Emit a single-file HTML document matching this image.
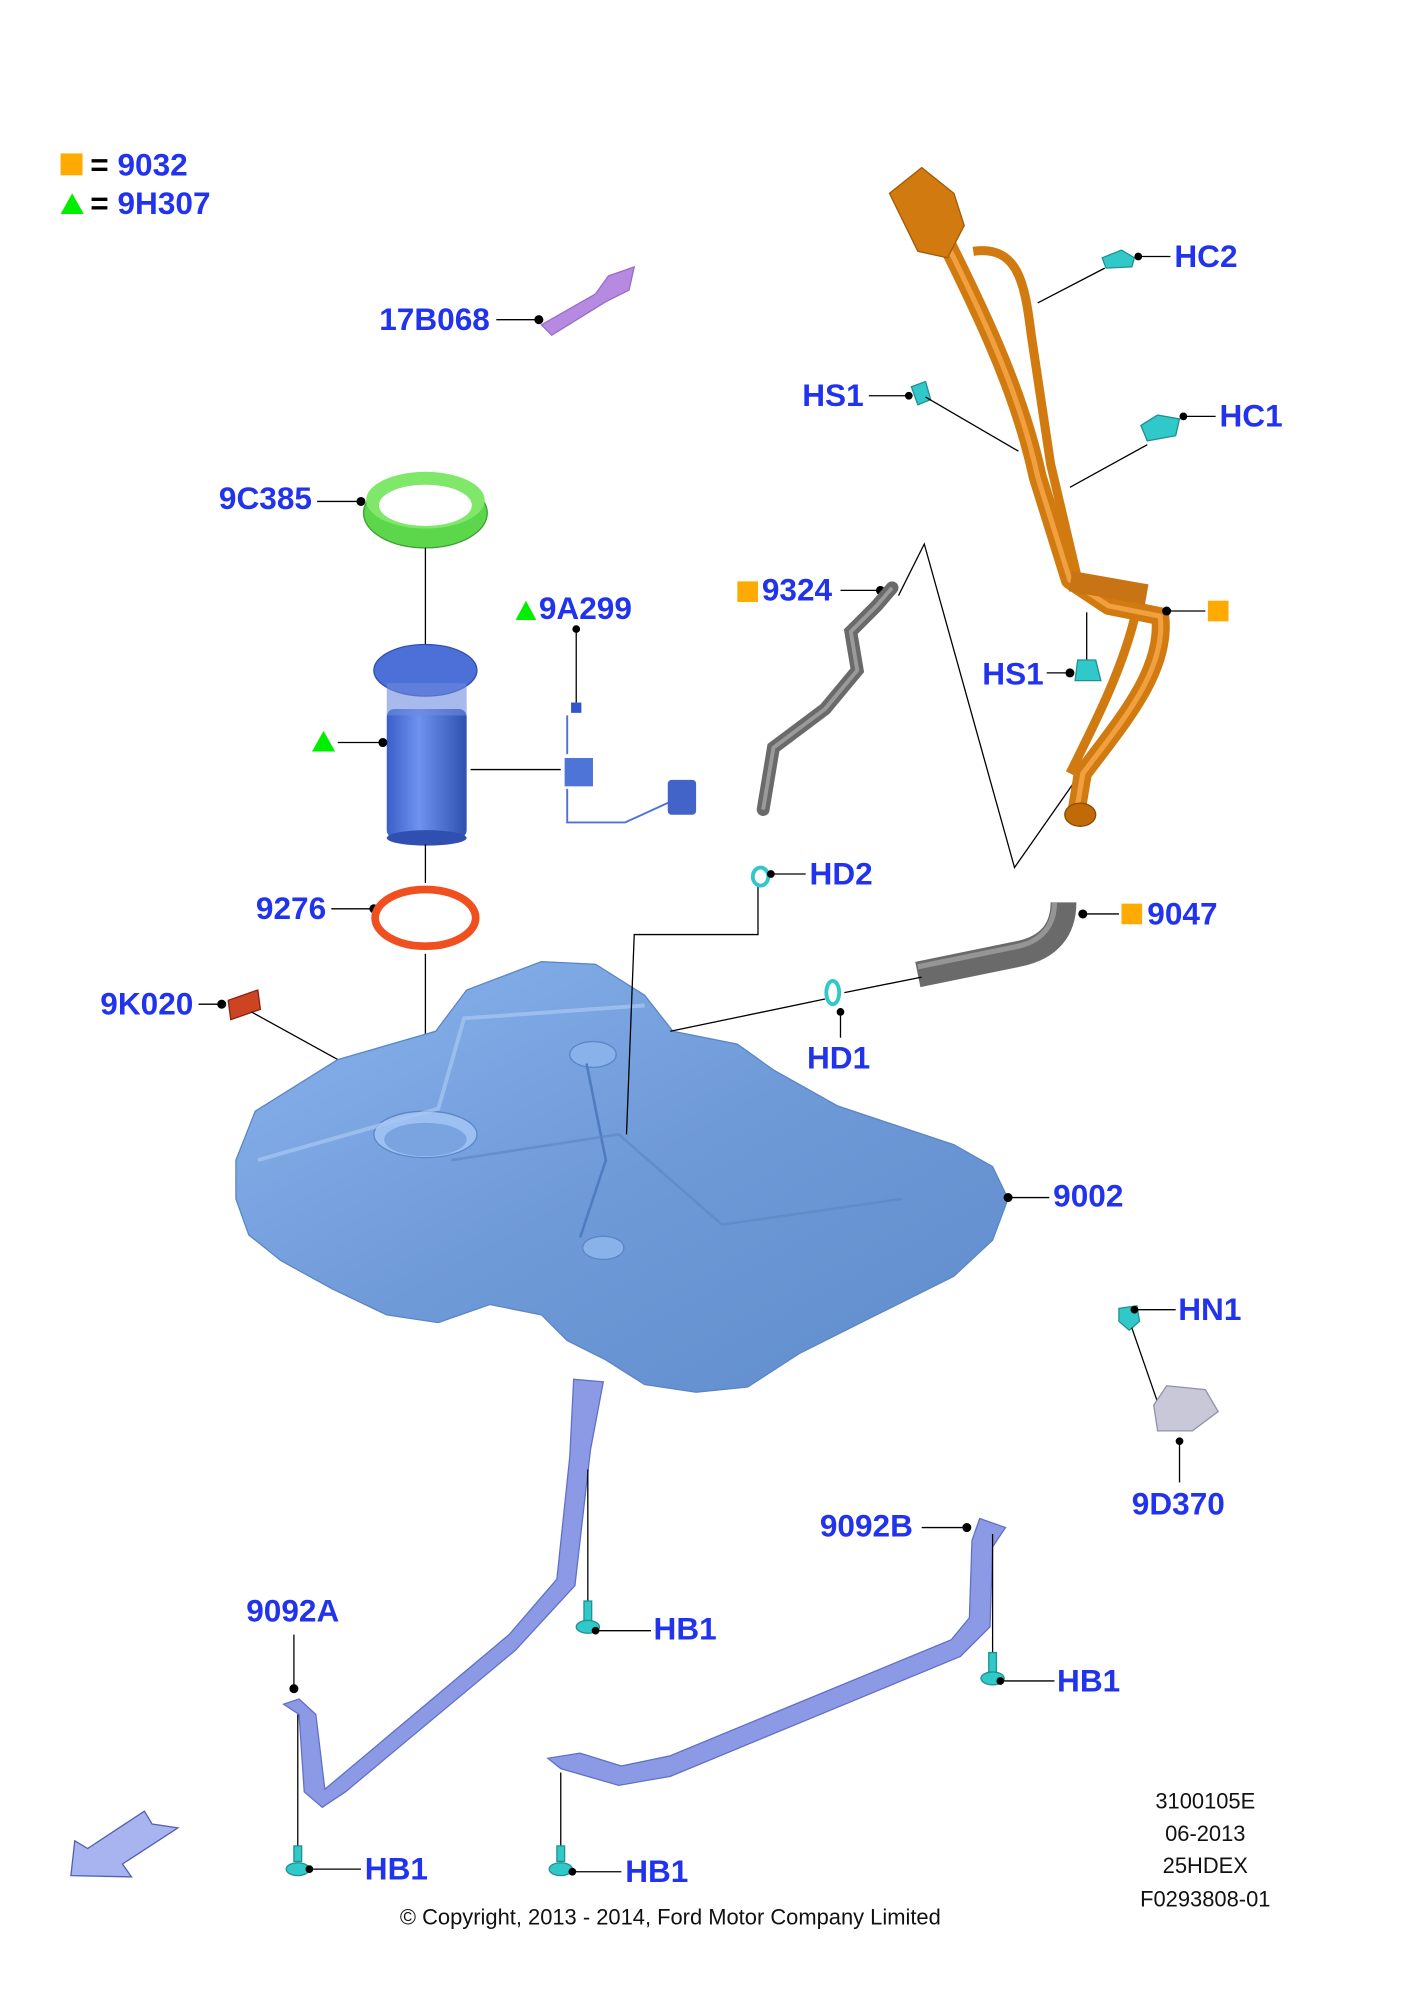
<!DOCTYPE html>
<html><head><meta charset="utf-8"><style>
html,body{margin:0;padding:0;background:#fff}
svg{display:block}
.l{font-family:"Liberation Sans",sans-serif;font-weight:bold;font-size:24.5px;fill:#2233ee}
.s{font-family:"Liberation Sans",sans-serif;font-size:17px;fill:#111}
.ln{stroke:#000;stroke-width:1;fill:none}
</style></head><body>
<svg width="1418" height="2000" viewBox="0 0 1100 1551.5" xmlns="http://www.w3.org/2000/svg">
<defs>
<linearGradient id="tk" x1="0" y1="0" x2="1" y2="1"><stop offset="0" stop-color="#8ab4ee"/><stop offset="0.5" stop-color="#6f9ad8"/><stop offset="1" stop-color="#5f8ccc"/></linearGradient>
<linearGradient id="pm" x1="0" y1="0" x2="1" y2="0"><stop offset="0" stop-color="#3a5fc8"/><stop offset="0.4" stop-color="#6e92ee"/><stop offset="1" stop-color="#2f50b0"/></linearGradient>
</defs>
<rect x="47" y="119" width="17" height="17" fill="#ffaa00"/>
<text x="70" y="136" class="l"><tspan fill="#000">= </tspan>9032</text>
<polygon points="47,166 56,150 65,166" fill="#00ee00"/>
<text x="70" y="166" class="l"><tspan fill="#000">= </tspan>9H307</text>

<text x="380" y="256" class="l" text-anchor="end">17B068</text>
<line x1="385" y1="248" x2="418" y2="248" class="ln"/><circle cx="418" cy="248" r="3.5"/>
<path d="M420,252 L462,228 L472,214 L492,207 L488,225 L470,234 L428,260 Z" fill="#b58ae0" stroke="#9a6cc8"/>

<text x="242" y="395" class="l" text-anchor="end">9C385</text>
<line x1="246" y1="389" x2="280" y2="389" class="ln"/><circle cx="280" cy="389" r="3.5"/>
<ellipse cx="330" cy="398" rx="48" ry="27" fill="#5cd64a" stroke="#3aa030"/>
<ellipse cx="330" cy="388" rx="46" ry="22" fill="#7fe86a"/>
<ellipse cx="330" cy="392" rx="36" ry="16" fill="#fff"/>
<line x1="330" y1="425" x2="330" y2="500" class="ln"/>

<rect x="300" y="550" width="62" height="100" rx="6" fill="url(#pm)"/>
<ellipse cx="331" cy="650" rx="31" ry="6" fill="#2f50b0"/>
<ellipse cx="330" cy="520" rx="40" ry="20" fill="#4d6fd8" stroke="#2f4fb0"/>
<rect x="300" y="530" width="62" height="25" fill="#6e8ae0" opacity="0.6"/>
<polygon points="242,583 251,567 260,583" fill="#00ee00"/>
<line x1="262" y1="576" x2="297" y2="576" class="ln"/><circle cx="297" cy="576" r="3.5"/>
<line x1="365" y1="597" x2="435" y2="597" class="ln"/>
<line x1="330" y1="655" x2="330" y2="685" class="ln"/>

<polygon points="400,481 408,466 416,481" fill="#00ee00"/>
<text x="418" y="480" class="l">9A299</text>
<line x1="447" y1="488" x2="447" y2="545" class="ln"/><circle cx="447" cy="488" r="3"/>
<rect x="443" y="545" width="8" height="8" fill="#3355cc"/>
<rect x="438" y="588" width="22" height="22" fill="#4f74d8"/>
<path d="M440,555 L440,585 M440,612 L440,638 L485,638 L520,622" stroke="#4f74d8" stroke-width="1.5" fill="none"/>
<rect x="518" y="605" width="22" height="27" rx="3" fill="#4263c8"/>

<text x="253" y="713" class="l" text-anchor="end">9276</text>
<line x1="257" y1="705" x2="290" y2="705" class="ln"/><circle cx="290" cy="705" r="3.5"/>
<ellipse cx="330" cy="712" rx="39" ry="22" fill="none" stroke="#f05020" stroke-width="6"/>
<line x1="330" y1="740" x2="330" y2="892" class="ln"/>

<text x="150" y="787" class="l" text-anchor="end">9K020</text>
<line x1="154" y1="779" x2="172" y2="779" class="ln"/><circle cx="172" cy="779" r="3.5"/>
<path d="M177,776 L200,768 L202,783 L179,791 Z" fill="#cc4422" stroke="#882211"/>
<line x1="195" y1="785" x2="262" y2="822" class="ln"/>

<path d="M183,900 L198,862 L262,822 L338,800 L362,768 L420,746 L462,748 L500,772 L522,800 L572,810 L600,830 L650,858 L740,888 L770,905 L782,930 L770,962 L740,990 L680,1020 L620,1050 L580,1076 L540,1080 L500,1074 L470,1055 L440,1040 L420,1020 L380,1012 L340,1026 L300,1020 L258,1000 L218,978 L193,958 L183,930 Z" fill="url(#tk)" stroke="#5a86c6"/>
<ellipse cx="330" cy="880" rx="40" ry="18" fill="#9cc0f2" stroke="#5a86c6"/>
<ellipse cx="330" cy="884" rx="32" ry="13" fill="#7aa4e0"/>
<ellipse cx="460" cy="818" rx="18" ry="10" fill="#8ab2ea" stroke="#5a86c6"/>
<ellipse cx="468" cy="968" rx="16" ry="9" fill="#8ab2ea" stroke="#5a86c6"/>
<path d="M455,825 L470,900 L450,960" stroke="#4f7cc0" stroke-width="2" fill="none"/>
<path d="M200,900 L340,860 L360,790 L500,780" stroke="#a8c8f4" stroke-width="3" fill="none" opacity="0.7"/>
<path d="M350,900 L480,880 L560,950 L700,930" stroke="#5a86c6" stroke-width="2" fill="none" opacity="0.6"/>
<text x="817" y="936" class="l">9002</text>
<line x1="782" y1="929" x2="814" y2="929" class="ln"/><circle cx="782" cy="929" r="3.5"/>

<rect x="572" y="451" width="16" height="16" fill="#ffaa00"/>
<text x="591" y="466" class="l">9324</text>
<line x1="652" y1="458" x2="683" y2="458" class="ln"/><circle cx="683" cy="458" r="3.5"/>
<path d="M692,456 L680,470 L660,490 L665,520 L640,550 L600,580 L592,628" stroke="#6a6a6a" stroke-width="10" fill="none" stroke-linecap="round"/>
<path d="M692,456 L680,470 L660,490 L665,520 L640,550 L600,580 L592,628" stroke="#9a9a9a" stroke-width="3" fill="none"/>
<polyline points="588,685 588,725 492,725 486,880" class="ln"/>
<ellipse cx="590" cy="680" rx="6" ry="7" fill="none" stroke="#30c8c8" stroke-width="3"/>
<line x1="596" y1="678" x2="625" y2="678" class="ln"/><circle cx="598" cy="678" r="3"/>
<text x="628" y="686" class="l">HD2</text>

<polyline points="697,462 717,422 787,673 838,600" class="ln"/>

<path d="M715,150 C760,240 790,300 805,370 L830,450 L860,470 L900,478 C905,520 870,560 840,600 L835,630" stroke="#d07a10" stroke-width="14" fill="none" stroke-linejoin="round"/>
<path d="M715,150 C760,240 790,300 805,370 L830,450 L860,470 L900,478 C905,520 870,560 840,600 L835,630" stroke="#f0a040" stroke-width="4" fill="none"/>
<path d="M755,195 C790,190 795,220 800,260 L815,360 L835,445" stroke="#d07a10" stroke-width="7" fill="none"/>
<path d="M880,480 C870,520 850,560 830,600" stroke="#d07a10" stroke-width="7" fill="none"/>
<path d="M690,150 L715,130 L740,150 L748,175 L735,200 L712,195 Z" fill="#d07a10" stroke="#a05a08"/>
<ellipse cx="838" cy="632" rx="12" ry="9" fill="#c06a08" stroke="#8a4a04"/>
<rect x="830" y="448" width="60" height="16" fill="#c87414" transform="rotate(10 860 456)"/>

<path d="M855,200 L870,194 L880,200 L878,207 L858,208 Z" fill="#30c8c8" stroke="#209090"/>
<line x1="883" y1="199" x2="908" y2="199" class="ln"/><circle cx="883" cy="199" r="3"/>
<text x="911" y="207" class="l">HC2</text>
<line x1="857" y1="208" x2="805" y2="235" class="ln"/>
<text x="670" y="315" class="l" text-anchor="end">HS1</text>
<line x1="674" y1="307" x2="705" y2="307" class="ln"/><circle cx="705" cy="307" r="3"/>
<path d="M707,300 L718,296 L722,310 L712,314 Z" fill="#30c8c8" stroke="#209090"/>
<line x1="718" y1="308" x2="790" y2="350" class="ln"/>
<path d="M885,330 L898,322 L915,325 L912,338 L890,342 Z" fill="#30c8c8" stroke="#209090"/>
<line x1="918" y1="323" x2="943" y2="323" class="ln"/><circle cx="918" cy="323" r="3"/>
<text x="946" y="331" class="l">HC1</text>
<line x1="890" y1="345" x2="830" y2="378" class="ln"/>
<line x1="905" y1="474" x2="935" y2="474" class="ln"/><circle cx="905" cy="474" r="3.5"/>
<rect x="937" y="466" width="16" height="16" fill="#ffaa00"/>
<text x="762" y="531" class="l">HS1</text>
<line x1="812" y1="522" x2="830" y2="522" class="ln"/><circle cx="830" cy="522" r="3.5"/>
<line x1="843" y1="475" x2="843" y2="512" class="ln"/>
<path d="M836,512 L850,512 L854,528 L834,528 Z" fill="#30c8c8" stroke="#209090"/>

<path d="M712,756 L790,740 C815,735 825,720 825,700" stroke="#6a6a6a" stroke-width="20" fill="none"/>
<path d="M712,750 L790,734 C808,730 818,718 818,700" stroke="#959595" stroke-width="4" fill="none"/>
<line x1="840" y1="709" x2="868" y2="709" class="ln"/><circle cx="840" cy="709" r="3.5"/>
<rect x="870" y="701" width="16" height="16" fill="#ffaa00"/>
<text x="890" y="717" class="l">9047</text>
<line x1="520" y1="800" x2="640" y2="775" class="ln"/>
<line x1="655" y1="770" x2="715" y2="758" class="ln"/>
<ellipse cx="646" cy="770" rx="5" ry="9" fill="none" stroke="#30c8c8" stroke-width="3"/>
<line x1="652" y1="785" x2="652" y2="805" class="ln"/><circle cx="652" cy="785" r="3"/>
<text x="626" y="829" class="l">HD1</text>

<path d="M868,1015 L882,1013 L884,1025 L876,1032 L868,1025 Z" fill="#30c8c8" stroke="#209090"/>
<line x1="880" y1="1016" x2="912" y2="1016" class="ln"/><circle cx="880" cy="1016" r="3"/>
<text x="914" y="1024" class="l">HN1</text>
<line x1="878" y1="1030" x2="905" y2="1108" class="ln"/>
<path d="M895,1090 L905,1075 L935,1078 L945,1095 L925,1110 L898,1110 Z" fill="#c8c8d8" stroke="#9090a8"/>
<line x1="915" y1="1118" x2="915" y2="1150" class="ln"/><circle cx="915" cy="1118" r="3"/>
<text x="878" y="1175" class="l">9D370</text>

<path d="M445,1070 L468,1072 L458,1125 L446,1230 L400,1280 L268,1390 L250,1402 L236,1390 L232,1330 L220,1322 L232,1318 L245,1330 L252,1388 L395,1268 L432,1225 L442,1130 Z" fill="#8c9ae6" stroke="#6070c8"/>
<text x="191" y="1258" class="l">9092A</text>
<line x1="228" y1="1268" x2="228" y2="1310" class="ln"/><circle cx="228" cy="1310" r="3.5"/>
<line x1="231" y1="1330" x2="231" y2="1440" class="ln"/>
<line x1="456" y1="1140" x2="456" y2="1255" class="ln"/>
<path d="M760,1178 L780,1185 L770,1200 L768,1262 L745,1285 L520,1378 L480,1385 L435,1372 L425,1364 L450,1360 L482,1370 L520,1362 L738,1272 L752,1255 L754,1195 Z" fill="#8c9ae6" stroke="#6070c8"/>
<text x="636" y="1192" class="l">9092B</text>
<line x1="715" y1="1185" x2="750" y2="1185" class="ln"/><circle cx="750" cy="1185" r="3.5"/>
<line x1="770" y1="1190" x2="770" y2="1295" class="ln"/>
<line x1="435" y1="1375" x2="435" y2="1440" class="ln"/>

<g fill="#30c8c8" stroke="#209090">
<rect x="453" y="1242" width="6" height="16"/><ellipse cx="456" cy="1262" rx="9" ry="5"/>
<rect x="767" y="1282" width="6" height="16"/><ellipse cx="770" cy="1302" rx="9" ry="5"/>
<rect x="228" y="1432" width="6" height="12"/><ellipse cx="231" cy="1450" rx="9" ry="5"/>
<rect x="432" y="1432" width="6" height="12"/><ellipse cx="435" cy="1450" rx="9" ry="5"/>
</g>
<line x1="462" y1="1265" x2="505" y2="1265" class="ln"/><circle cx="462" cy="1265" r="3"/>
<text x="507" y="1272" class="l">HB1</text>
<line x1="776" y1="1304" x2="818" y2="1304" class="ln"/><circle cx="776" cy="1304" r="3"/>
<text x="820" y="1312" class="l">HB1</text>
<line x1="240" y1="1450" x2="280" y2="1450" class="ln"/><circle cx="240" cy="1450" r="3"/>
<text x="283" y="1458" class="l">HB1</text>
<line x1="444" y1="1452" x2="482" y2="1452" class="ln"/><circle cx="444" cy="1452" r="3"/>
<text x="485" y="1460" class="l">HB1</text>

<polygon points="55,1455 58,1428 68,1434 112,1405 118,1415 138,1418 95,1446 102,1456" fill="#a8b4f0" stroke="#5060b0"/>

<g class="s" text-anchor="middle">
<text x="935" y="1403">3100105E</text>
<text x="935" y="1428">06-2013</text>
<text x="935" y="1453">25HDEX</text>
<text x="935" y="1479">F0293808-01</text>
<text x="520" y="1493">© Copyright, 2013 - 2014, Ford Motor Company Limited</text>
</g>
</svg>
</body></html>
